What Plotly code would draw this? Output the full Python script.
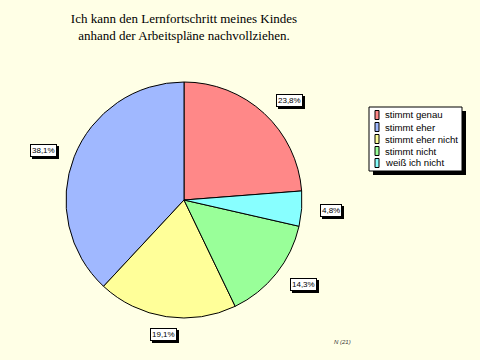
import math
import plotly.graph_objects as go

# Data
labels = ["stimmt genau", "stimmt eher", "stimmt eher nicht", "stimmt nicht", "weiß ich nicht"]
percents = [23.8, 38.1, 19.1, 14.3, 4.8]
colors = ["#FF8888", "#A0B8FF", "#FFFF99", "#99FF99", "#88FFFF"]
n_label = "N (21)"
title_text = "Ich kann den Lernfortschritt meines Kindes<br>anhand der Arbeitspläne nachvollziehen."

W, H = 480, 360
dom_x = [66 / W, 302 / W]
dom_y = [1 - 318 / H, 1 - 82 / H]

total = sum(percents)

fig = go.Figure()
fig.add_trace(go.Pie(
    labels=labels, values=percents, sort=False, direction="counterclockwise",
    rotation=0,
    marker=dict(colors=colors, line=dict(color="black", width=1)),
    textinfo="none", hoverinfo="label+percent",
    domain=dict(x=dom_x, y=dom_y), showlegend=False,
))

FONT = "Liberation Sans, Arial"

# percentage labels, placed from slice geometry (first slice ends at 12 o'clock, ccw order)
cx = (dom_x[0] + dom_x[1]) / 2 * W
cy = (1 - (dom_y[0] + dom_y[1]) / 2) * H
R = min((dom_x[1] - dom_x[0]) * W, (dom_y[1] - dom_y[0]) * H) / 2
annotations = []
start = 360 * percents[0] / total
cum = 0.0
for lab, p in zip(labels, percents):
    a0 = start - 360 * cum / total
    a1 = start - 360 * (cum + p) / total
    cum += p
    mid = math.radians((a0 + a1) / 2)
    r = R + 18
    px = cx + r * math.sin(mid)
    py = cy - r * math.cos(mid)
    s = math.sin(mid)
    xanchor = "left" if s > 0.2 else ("right" if s < -0.2 else "center")
    txt = f"{p:.1f}%".replace(".", ",")
    common = dict(x=px / W, y=1 - py / H, xref="paper", yref="paper", text=txt,
                  showarrow=False, xanchor=xanchor, yanchor="middle",
                  font=dict(family=FONT, size=8, color="black"),
                  borderwidth=1, borderpad=1)
    annotations.append(dict(common, xshift=2, yshift=-2, bgcolor="black", bordercolor="black"))
    annotations.append(dict(common, bgcolor="white", bordercolor="black"))

annotations.append(dict(x=342 / W, y=1 - 342 / H, xref="paper", yref="paper", text=f"<i>{n_label}</i>",
                        showarrow=False, font=dict(family=FONT, size=6, color="#333333"),
                        xanchor="center", yanchor="middle"))

# manual legend
lx0, ly0, lx1, ly1 = 369, 107, 462, 171
row0, row_h = 115, 12
shapes = [
    dict(type="rect", xref="paper", yref="paper", layer="above",
         x0=(lx0 + 4) / W, x1=(lx1 + 4) / W, y0=1 - (ly1 + 4) / H, y1=1 - (ly0 + 4) / H,
         fillcolor="black", line=dict(width=0)),
    dict(type="rect", xref="paper", yref="paper", layer="above",
         x0=lx0 / W, x1=lx1 / W, y0=1 - ly1 / H, y1=1 - ly0 / H,
         fillcolor="white", line=dict(color="black", width=1)),
]
for i, (lab, col) in enumerate(zip(labels, colors)):
    yc = row0 + i * row_h
    shapes.append(dict(type="rect", xref="paper", yref="paper", layer="above",
                       x0=375 / W, x1=379 / W, y0=1 - (yc + 4.5) / H, y1=1 - (yc - 4.5) / H,
                       fillcolor=col, line=dict(color="black", width=1)))
    annotations.append(dict(x=383 / W, y=1 - yc / H, xref="paper", yref="paper", text=lab,
                            showarrow=False, xanchor="left", yanchor="middle",
                            font=dict(family=FONT, size=9.6, color="black")))

fig.update_layout(
    width=W, height=H, margin=dict(l=0, r=0, t=0, b=0),
    paper_bgcolor="#FFFFE6", plot_bgcolor="#FFFFE6",
    title=dict(text=title_text, x=184 / W, xanchor="center", y=1 - 23 / H, yanchor="top",
               font=dict(family="Liberation Serif, Times New Roman", size=13, color="black")),
    annotations=annotations, shapes=shapes, showlegend=False,
)

fig.write_html("out.html", config={"displayModeBar": False},
               post_script="document.body.style.margin='0';")
